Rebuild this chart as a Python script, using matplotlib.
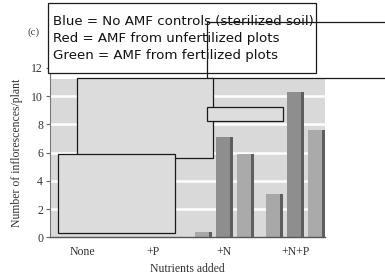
import matplotlib
matplotlib.use("Agg")
import matplotlib.pyplot as plt
from matplotlib.patches import Rectangle
import numpy as np

categories = ["None", "+P", "+N", "+N+P"]
blue_no_amf = [0.0, 0.0, 0.4, 3.1]
red_unfert = [0.0, 0.0, 7.1, 10.3]
green_fert = [0.0, 0.0, 5.9, 7.6]
yticks = [0, 2, 4, 6, 8, 10, 12]
legend_lines = ["Blue = No AMF controls (sterilized soil)",
                "Red = AMF from unfertilized plots",
                "Green = AMF from fertilized plots"]

W, H = 385, 279
fig = plt.figure(figsize=(W / 100, H / 100), dpi=100)
fig.patch.set_facecolor("white")
ax = fig.add_axes([50 / W, 1 - 237.3 / H, 275 / W, (237.3 - 68) / H])
ax.set_facecolor("white")

x = np.arange(len(categories))
bw = 0.24
off = 0.296
ax.set_xlim(-0.45, 3.42)
ax.set_ylim(0, 12)
ax.axhspan(0, 11.25, color="#d9d9d9", zorder=0, lw=0)
for g in [2, 4, 6, 8, 10]:
    ax.axhline(g, color="white", lw=1.8, zorder=1)

series = [(blue_no_amf, -off, "#a8a8a8"), (red_unfert, 0, "#8e8e8e"), (green_fert, off, "#aaaaaa")]
for vals, dx, col in series:
    ax.bar(x + dx, vals, width=bw, color=col, zorder=2, lw=0)
    ax.bar(x + dx + bw / 2 - 0.02, vals, width=0.04, color="#5e5e5e", zorder=3, lw=0)

ax.set_xticks(x)
ax.set_xticklabels(categories, family="Liberation Serif", fontsize=8.5, color="#333333")
ax.set_yticks(yticks)
ax.set_yticklabels([str(t) for t in yticks], family="Liberation Serif", fontsize=8.5, color="#333333")
ax.tick_params(axis="x", length=0, pad=6)
ax.tick_params(axis="y", length=3, width=0.8, color="#666666", pad=2)
for s in ["top", "right"]:
    ax.spines[s].set_visible(False)
ax.spines["left"].set_color("#777777")
ax.spines["bottom"].set_color("#555555")
ax.spines["left"].set_linewidth(0.8)
ax.spines["bottom"].set_linewidth(1.0)
ax.set_xlabel("Nutrients added", family="Liberation Serif", fontsize=8.5, color="#333333", labelpad=4)
ax.set_ylabel("Number of inflorescences/plant", family="Liberation Serif", fontsize=8.5, color="#333333", labelpad=6)

fig.text(27 / W, 1 - 32 / H, "(c)", family="Liberation Serif", fontsize=8, color="#444444", va="center")

def rect(x0, y0, x1, y1, fc, z):
    r = Rectangle((x0 / W, 1 - y1 / H), (x1 - x0) / W, (y1 - y0) / H,
                  transform=fig.transFigure, facecolor=fc if fc else "none", edgecolor="#1a1a1a",
                  lw=0.9, zorder=z)
    fig.add_artist(r)

rect(48, 3, 316, 73.3, "white", 10)
for i, line in enumerate(legend_lines):
    t = fig.text(53 / W, 1 - (21.5 + 17 * i) / H, line, fontsize=9.6, family="DejaVu Sans",
                 color="#111111", va="center", zorder=11)
rect(207.3, 22.3, 390, 78.3, None, 12)
rect(76.5, 78.3, 212.7, 158.3, "#dcdcdc", 13)
rect(207.3, 106.7, 283.3, 121, "#dddddd", 14)
rect(57.7, 154, 175, 233.3, "#dcdcdc", 15)

fig.savefig("out.png", dpi=100)
